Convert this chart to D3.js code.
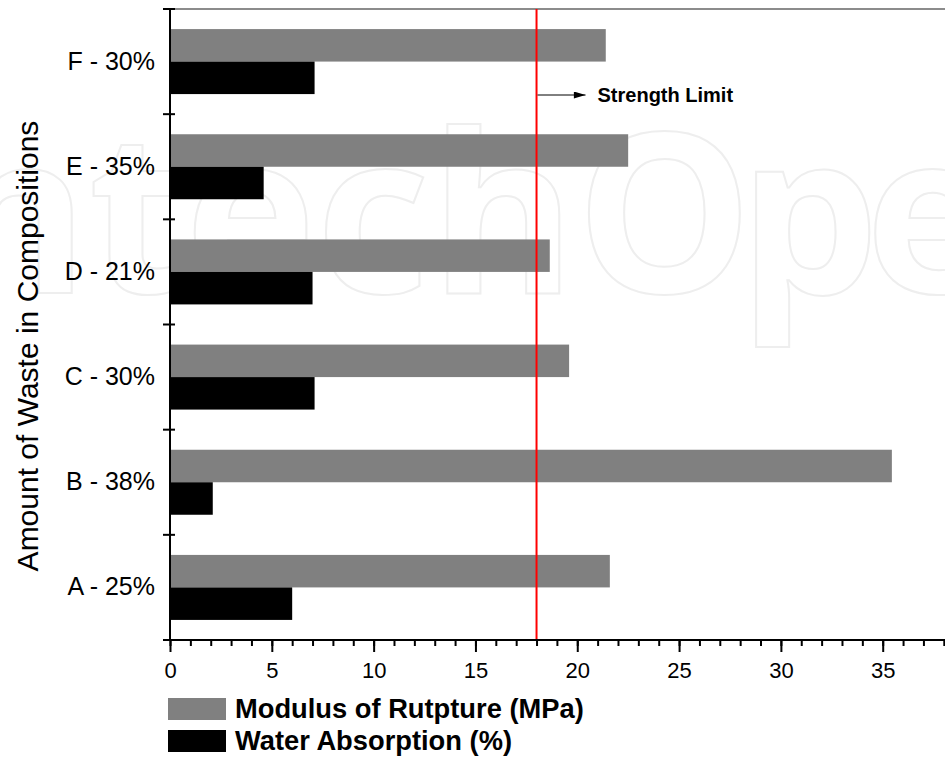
<!DOCTYPE html>
<html>
<head>
<meta charset="utf-8">
<script src="https://cdn.jsdelivr.net/npm/d3@7"></script>
<style>
  body { margin: 0; background: #fff; }
  svg { display: block; font-family: "Liberation Sans", Arial, sans-serif; }
</style>
</head>
<body>
<div id="chart"></div>
<script>
// data
const categories = ["A - 25%", "B - 38%", "C - 30%", "D - 21%", "E - 35%", "F - 30%"];
const modulus = [21.6, 35.45, 19.6, 18.65, 22.5, 21.4];   // MPa
const water = [6.0, 2.1, 7.1, 7.0, 4.6, 7.1];              // %
const strengthLimit = 18;
const xTicks = [0, 5, 10, 15, 20, 25, 30, 35];
const xMinor = d3.range(0, 39, 1);

const width = 945, height = 758;

const svg = d3.select("#chart").append("svg")
    .attr("width", width)
    .attr("height", height);

// ‚îÄ‚îÄ watermark behind everything (outlined heavy letters)
const wm = svg.append("g")
    .style("font-family", "'Open Sans', 'Noto Sans', sans-serif")
    .style("font-weight", "700")
    .style("font-size", "222px");
const wmParts = [
  { text: "ntech", anchor: "end", spacing: 0 },
  { text: "Open", anchor: "start", spacing: -14 }
];
wm.selectAll("text")
    .data(wmParts)
    .join("text")
    .attr("x", 576).attr("y", 293)
    .attr("text-anchor", d => d.anchor)
    .style("letter-spacing", d => d.spacing + "px")
    .attr("fill", "#fff")
    .attr("stroke", "#eeeeee")
    .attr("stroke-width", 2)
    .text(d => d.text);

// scales
const x = d3.scaleLinear().domain([0, 38]).range([170, 170 + 38 * 20.363]);
const y = d3.scaleBand().domain(categories).range([640, 9]);
const barH = 32.5;

// top frame line
svg.append("line")
    .attr("x1", x(0)).attr("x2", width)
    .attr("y1", 9).attr("y2", 9)
    .attr("stroke", "#666").attr("stroke-width", 1.5);

// bars
const groups = svg.append("g").selectAll("g")
    .data(categories)
    .join("g");

groups.append("rect")
    .attr("x", x(0))
    .attr("y", d => y(d) + y.bandwidth() / 2 - barH)
    .attr("width", (d, i) => x(modulus[i]) - x(0))
    .attr("height", barH)
    .attr("fill", "#808080");

groups.append("rect")
    .attr("x", x(0))
    .attr("y", d => y(d) + y.bandwidth() / 2)
    .attr("width", (d, i) => x(water[i]) - x(0))
    .attr("height", barH)
    .attr("fill", "#000");

// strength limit line
svg.append("line")
    .attr("x1", x(strengthLimit)).attr("x2", x(strengthLimit))
    .attr("y1", 9).attr("y2", 640)
    .attr("stroke", "#ff0000").attr("stroke-width", 2);

svg.append("defs").append("marker")
    .attr("id", "arrow")
    .attr("viewBox", "0 0 10 6")
    .attr("refX", 10).attr("refY", 3)
    .attr("markerWidth", 19).attr("markerHeight", 7)
    .attr("markerUnits", "userSpaceOnUse")
    .attr("orient", "auto")
    .append("path").attr("d", "M0,0L10,3L0,6Z").attr("fill", "#000");

svg.append("line")
    .attr("x1", x(strengthLimit) + 1).attr("x2", x(strengthLimit) + 49)
    .attr("y1", 95).attr("y2", 95)
    .attr("stroke", "#000").attr("stroke-width", 1)
    .attr("marker-end", "url(#arrow)");

svg.append("text")
    .attr("x", x(strengthLimit) + 61).attr("y", 102)
    .style("font-size", "20px").style("font-weight", "bold")
    .text("Strength Limit");

// x axis
const xAxis = svg.append("g")
    .attr("transform", "translate(0,640)");

xAxis.call(d3.axisBottom(x).tickValues(xMinor).tickSize(6).tickFormat(""))
    .call(g => g.select(".domain").remove());
xAxis.append("g")
    .call(d3.axisBottom(x).tickValues(xTicks).tickSize(12).tickFormat(d3.format("d")))
    .call(g => g.select(".domain").remove())
    .call(g => g.selectAll("text").attr("y", 22).style("font-size", "22px").attr("fill", "#000")
        .style("font-family", "'Liberation Sans', Arial, sans-serif"));
xAxis.selectAll("line").attr("stroke", "#000").attr("stroke-width", 2);
xAxis.append("line")
    .attr("x1", 163).attr("x2", width)
    .attr("stroke", "#000").attr("stroke-width", 2);

// y axis
const yAxis = svg.append("g")
    .attr("transform", `translate(${x(0)},0)`);
yAxis.append("line")
    .attr("y1", 9).attr("y2", 640)
    .attr("stroke", "#000").attr("stroke-width", 2);
const bounds = categories.map(d => y(d) + y.bandwidth()).concat([y.range()[1]]);
yAxis.selectAll(".ytick")
    .data(bounds)
    .join("line")
    .attr("class", "ytick")
    .attr("x1", -7).attr("x2", 5)
    .attr("y1", d => d).attr("y2", d => d)
    .attr("stroke", "#000").attr("stroke-width", 2);

svg.append("g")
    .attr("transform", `translate(${x(0)},0)`)
    .call(d3.axisLeft(y).tickSize(0).tickPadding(15))
    .call(g => g.select(".domain").remove())
    .call(g => g.selectAll("text").style("font-size", "25px").attr("fill", "#000")
        .style("font-family", "'Liberation Sans', Arial, sans-serif"));

svg.append("text")
    .attr("transform", "translate(38,346) rotate(-90)")
    .attr("text-anchor", "middle")
    .style("font-size", "30px")
    .text("Amount of Waste in Compositions");

// legend
const legendItems = [
  { label: "Modulus of Rutpture (MPa)", color: "#808080" },
  { label: "Water Absorption (%)", color: "#000" }
];
const legend = svg.append("g").selectAll("g")
    .data(legendItems)
    .join("g")
    .attr("transform", (d, i) => `translate(168,${698 + i * 32})`);
legend.append("rect")
    .attr("width", 58).attr("height", 22)
    .attr("fill", d => d.color);
legend.append("text")
    .attr("x", 67).attr("y", 20)
    .style("font-size", "27.3px").style("font-weight", "bold")
    .text(d => d.label);
</script>
</body>
</html>
